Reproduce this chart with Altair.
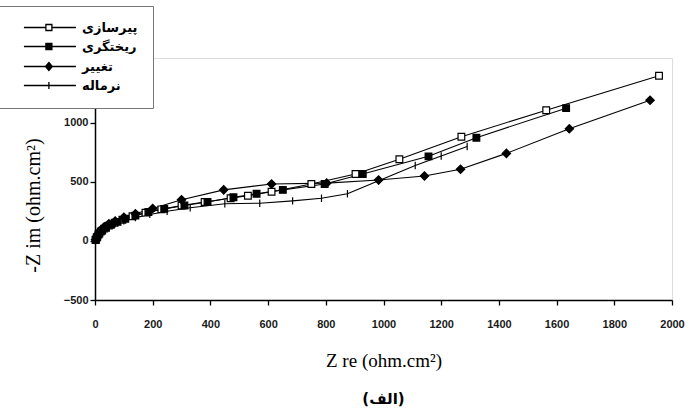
import altair as alt
import pandas as pd

# series names
names = ["پیرسازی", "ریختگری", "تغییر", "نرماله"]

# پیرسازی (open square)
ps_x = [2, 6, 12, 20, 32, 48, 68, 95, 130, 175, 230, 300, 380, 470, 530, 612, 750, 903, 1055, 1270, 1564, 1955]
ps_y = [8, 30, 55, 80, 105, 130, 155, 180, 210, 240, 268, 300, 330, 362, 383, 417, 483, 567, 692, 883, 1108, 1400]
# ریختگری (filled square)
rk_x = [3, 8, 15, 25, 38, 55, 78, 105, 140, 185, 240, 310, 390, 480, 560, 651, 796, 928, 1156, 1322, 1633]
rk_y = [10, 35, 62, 88, 112, 138, 162, 188, 215, 245, 272, 300, 330, 370, 400, 433, 483, 567, 717, 875, 1125]
# تغییر (diamond)
tg_x = [2, 6, 12, 20, 32, 48, 70, 100, 140, 200, 300, 446, 612, 803, 983, 1142, 1267, 1426, 1644, 1924]
tg_y = [10, 38, 65, 92, 120, 145, 170, 200, 230, 275, 350, 433, 483, 490, 517, 550, 608, 742, 950, 1192]
# نرماله (cross)
nr_x = [2, 6, 12, 20, 32, 48, 70, 100, 140, 190, 250, 330, 450, 571, 685, 785, 875, 983, 1110, 1200, 1290]
nr_y = [5, 25, 50, 75, 100, 122, 145, 170, 198, 225, 252, 282, 315, 320, 340, 362, 400, 510, 640, 720, 800]

x_ticks = list(range(0, 2001, 100))
y_ticks = list(range(-500, 1501, 250))

rows = []
for name, xs, ys in zip(names, [ps_x, rk_x, tg_x, nr_x], [ps_y, rk_y, tg_y, nr_y]):
    for i, (a, b) in enumerate(zip(xs, ys)):
        rows.append({"series": name, "zre": a, "zim": b, "i": i})
df = pd.DataFrame(rows)

# plot marker shapes / fills per series
plot_shapes = ["square", "square", "diamond", "M0,-1L0,1"]
plot_fills = ["white", "black", "black", "black"]
plot_sizes = [45, 45, 70, 55]

# legend symbols: line sample with marker (units of 4px)
leg_paths = [
    "M1.6,0L7.1,0M8.6,0L14.6,0M7.1,-0.75L8.6,-0.75L8.6,0.75L7.1,0.75Z",
    "M1.6,0L14.6,0M7.1,-0.75L8.6,-0.75L8.6,0.75L7.1,0.75Z",
    "M1.6,0L14.6,0M7.85,-1.0L8.7,0L7.85,1.0L7.0,0Z",
    "M1.6,0L14.6,0M7.85,-0.9L7.85,0.9",
]

xscale = alt.Scale(domain=[0, 2000], nice=False, zero=False)
yscale = alt.Scale(domain=[-500, 1550], nice=False, zero=False)

xaxis = alt.Axis(
    title="Z re (ohm.cm²)", values=x_ticks, format="d",
    labelExpr="datum.value % 200 == 0 ? datum.label : ''",
    grid=False, tickSize=5, tickWidth=1.3, tickColor="black",
    domainColor="black", domainWidth=1.5,
    labelFont="Liberation Sans Narrow, Arial Narrow, Liberation Sans", labelFontSize=11, labelFontWeight="bold",
    labelColor="#1a1a1a", labelPadding=13, labelFlush=False,
    titleFont="Liberation Serif", titleFontSize=19, titleFontWeight="normal", titleColor="black",
    titlePadding=22,
)
yaxis = alt.Axis(
    title="-Z im (ohm.cm²)", values=y_ticks, format="d",
    labelExpr="(datum.value % 500 == 0 && datum.value < 1500) ? datum.label : ''",
    grid=False, tickSize=5, tickWidth=1.3, tickColor="black",
    domainColor="black", domainWidth=1.5,
    labelFont="Liberation Sans Narrow, Arial Narrow, Liberation Sans", labelFontSize=11, labelFontWeight="bold",
    labelColor="#1a1a1a", labelPadding=2, labelFlush=False,
    titleFont="Liberation Serif", titleFontSize=20, titleFontWeight="normal", titleColor="black",
    titleX=-62, titleY=147, titleAngle=-90, titleAlign="center", titleBaseline="middle",
)

base = alt.Chart(df)

lines = base.mark_line(color="black", strokeWidth=1.1).encode(
    x=alt.X("zre:Q", scale=xscale, axis=xaxis),
    y=alt.Y("zim:Q", scale=yscale, axis=yaxis),
    detail="series:N",
    order="i:Q",
)

point_layers = []
for name, shp, fil, sz in zip(names, plot_shapes, plot_fills, plot_sizes):
    point_layers.append(
        base.transform_filter(alt.datum.series == name).mark_point(
            shape=shp, fill=fil, filled=True, stroke="black", strokeWidth=1.2, opacity=1, size=sz
        ).encode(
            x=alt.X("zre:Q", scale=xscale),
            y=alt.Y("zim:Q", scale=yscale),
        )
    )

leg = alt.Legend(
    title=None, orient="none", legendX=-99, legendY=-52,
    symbolSize=64, symbolStrokeWidth=1.3, symbolStrokeColor="black", symbolOpacity=1,
    labelFont="DejaVu Sans", labelFontSize=13, labelFontWeight="bold", labelColor="black",
    labelOffset=58, rowPadding=5, padding=15,
    fillColor="white", strokeColor="#777",
)

legend_layer = base.transform_filter("false").mark_point(
    filled=True, strokeWidth=1.3, opacity=1
).encode(
    x=alt.X("zre:Q", scale=xscale),
    y=alt.Y("zim:Q", scale=yscale),
    shape=alt.Shape("series:N", scale=alt.Scale(domain=names, range=leg_paths), legend=leg),
    fill=alt.Fill("series:N", scale=alt.Scale(domain=names, range=plot_fills), legend=leg),
    stroke=alt.Stroke("series:N", scale=alt.Scale(domain=names, range=["black"] * 4), legend=leg),
)

chart = alt.layer(lines, *point_layers, legend_layer).properties(
    width=577, height=242,
    autosize="none",
    padding={"left": 95, "top": 58, "right": 20, "bottom": 119},
    title=alt.TitleParams(
        "(الف)", orient="bottom", anchor="middle", font="DejaVu Sans",
        fontSize=15, fontWeight="bold", color="black", offset=22,
    ),
).configure_view(stroke="black", strokeWidth=1.5).configure(background="white")

chart.save("out.html", embed_options={"renderer": "svg", "actions": False})
